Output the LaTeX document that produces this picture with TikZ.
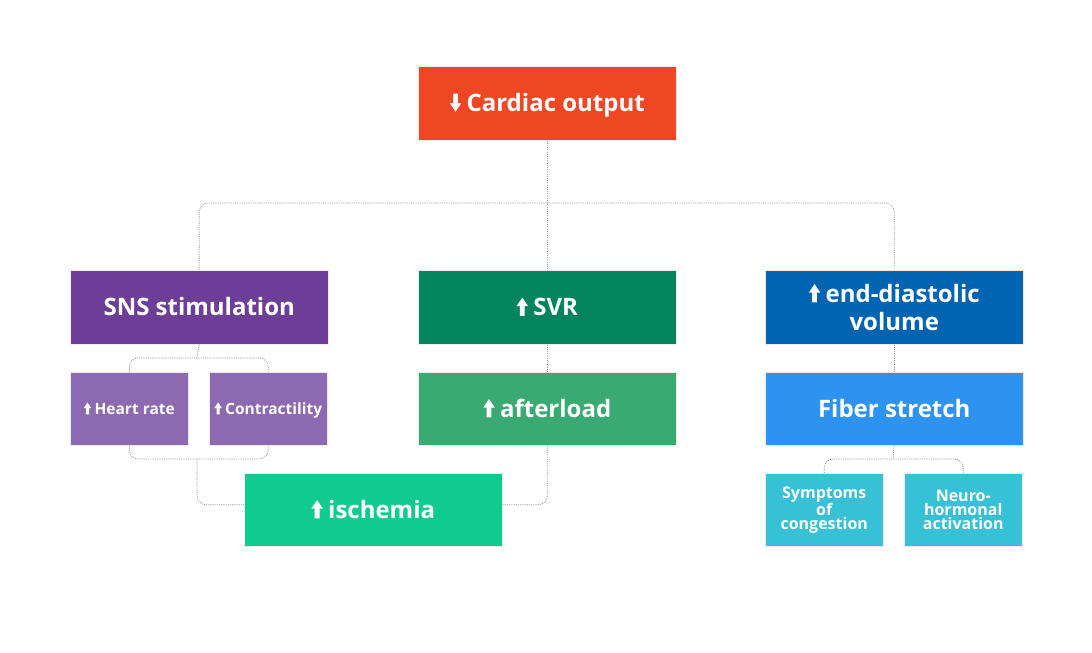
\documentclass[tikz,border=0pt]{standalone}
\usepackage{fontspec}
\setmainfont{Open Sans}
\usetikzlibrary{calc}
\definecolor{cCO}{HTML}{EF4623}
\definecolor{cSNS}{HTML}{6C3E98}
\definecolor{cSVR}{HTML}{04845D}
\definecolor{cEDV}{HTML}{0064B3}
\definecolor{cSUB}{HTML}{8C69B0}
\definecolor{cAFT}{HTML}{38AA72}
\definecolor{cFIB}{HTML}{2D92F0}
\definecolor{cISC}{HTML}{10CB8F}
\definecolor{cSYM}{HTML}{37C1D6}
\newcommand{\uparw}{\tikz[baseline=0pt,x=1em,y=1em]\fill[white] (-0.1,0) rectangle (0.1,0.42) (-0.24,0.4) -- (0,0.76) -- (0.24,0.4) -- cycle;\hspace{0.22em}}
\newcommand{\dnarw}{\tikz[baseline=0pt,x=1em,y=1em]\fill[white] (-0.1,0.76) rectangle (0.1,0.34) (-0.24,0.36) -- (0,0) -- (0.24,0.36) -- cycle;\hspace{0.22em}}
\tikzset{
  box/.style={anchor=north west, inner sep=0pt, draw=white!85!gray, line width=0.5pt,
    text=white, font=\bfseries\fontsize{24}{28}\selectfont, align=center,
    minimum width=258pt, minimum height=74pt},
  oneline/.style={text height=17pt, text depth=0pt},
  small/.style={box, minimum width=118pt, minimum height=73pt,
    font=\bfseries\fontsize{15.5}{13.5}\selectfont},
  smallone/.style={text height=11pt, text depth=0pt},
  conn/.style={draw=gray!85, line width=0.75pt, dash pattern=on 1.1pt off 1.1pt, rounded corners=9pt}
}
\begin{document}
\begin{tikzpicture}[x=1pt,y=-1pt]
\useasboundingbox (0,0) rectangle (1092,653);
% nodes
\node[box, oneline, fill=cCO] (co) at (418,66) {\dnarw Cardiac output};
\node[box, oneline, fill=cSNS] (sns) at (70,270) {SNS stimulation};
\node[box, oneline, fill=cSVR] (svr) at (418,270) {\uparw SVR};
\node[box, fill=cEDV] (edv) at (765,270) {\uparw end-diastolic\\volume};
\node[small, smallone, fill=cSUB] (hr) at (70,372) {\uparw Heart rate};
\node[small, smallone, fill=cSUB] (ct) at (209,372) {\uparw Contractility};
\node[box, oneline, fill=cAFT, minimum height=73pt] (aft) at (418,372) {\uparw afterload};
\node[box, oneline, fill=cFIB, minimum height=73pt] (fib) at (765,372) {Fiber stretch};
\node[box, oneline, fill=cISC, minimum height=73pt] (isc) at (244,473) {\uparw ischemia};
\node[small, fill=cSYM, font=\bfseries\fontsize{16}{14}\selectfont] (sym) at (765,473) {Symptoms\\of\\congestion};
\node[small, fill=cSYM, font=\bfseries\fontsize{16}{14}\selectfont] (neu) at (904,473) {Neuro-\\hormonal\\activation};
% bus points
\coordinate (bus) at (547,203);
\coordinate (snsbus) at (197,358);
\coordinate (subbus) at (197,459);
\coordinate (fibbus) at (893,459);
% connectors
\draw[conn] (co.south) -- (svr.north);
\draw[conn] (sns.north) |- (bus) -| (edv.north);
\draw[conn] (sns.south) -- (snsbus);
\draw[conn] (hr.north) |- (snsbus) -| (ct.north);
\draw[conn] (hr.south) |- (subbus) -| (ct.south);
\draw[conn] (subbus) |- ([yshift=5pt]isc.west);
\draw[conn] (aft.south) |- ([yshift=5pt]isc.east);
\draw[conn] (svr.south) -- (aft.north);
\draw[conn] (edv.south) -- (fib.north);
\draw[conn] (fib.south) -- (fibbus);
\draw[conn] (sym.north) |- (fibbus) -| (neu.north);
\end{tikzpicture}
\end{document}
